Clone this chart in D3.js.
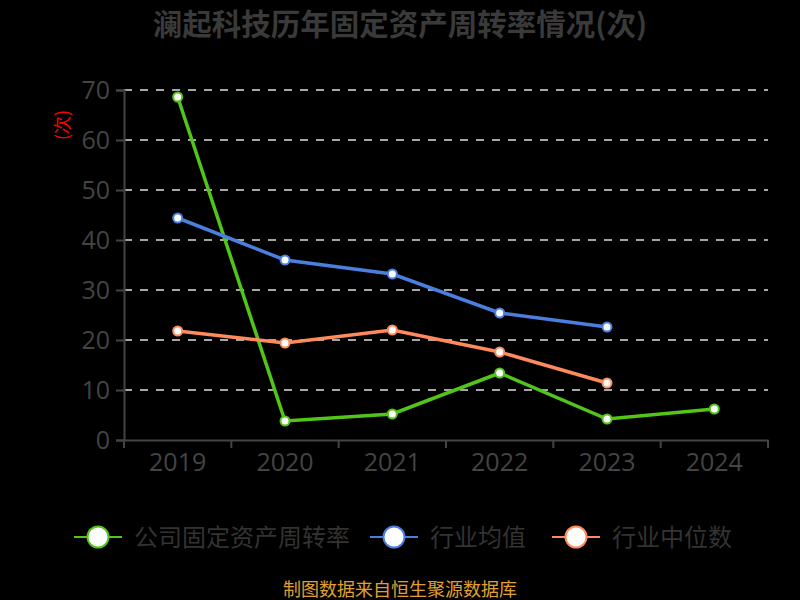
<!DOCTYPE html>
<html>
<head>
<meta charset="utf-8">
<script src="https://cdn.jsdelivr.net/npm/d3@7"></script>
<style>
  body { margin: 0; background: #000; }
  svg { display: block; font-family: "Noto Sans CJK SC", "Noto Sans", sans-serif; }
</style>
</head>
<body>
<svg id="chart"></svg>
<script>
// ---------------- data ----------------
const years = ["2019", "2020", "2021", "2022", "2023", "2024"];
const companyRate = [68.6, 3.8, 5.2, 13.4, 4.2, 6.2];
const industryAvg = [44.4, 36.0, 33.2, 25.4, 22.6];
const industryMedian = [21.8, 19.4, 22.0, 17.6, 11.4];
const yTicks = [0, 10, 20, 30, 40, 50, 60, 70];
const seriesNames = ["公司固定资产周转率", "行业均值", "行业中位数"];
const seriesColors = ["#52c41a", "#4a7fe0", "#ff8a5c"];

const width = 800;
const height = 600;
const margin = { left: 124, right: 32, top: 90, bottom: 160 };

const svg = d3.select("#chart")
  .attr("width", width)
  .attr("height", height);

svg.append("rect").attr("width", width).attr("height", height).attr("fill", "#000");

// scales
const xScale = d3.scaleBand()
  .domain(years)
  .range([margin.left, width - margin.right]);

const yScale = d3.scaleLinear()
  .domain([0, 70])
  .range([height - margin.bottom, margin.top]);

// title
svg.append("text")
  .attr("x", width / 2)
  .attr("y", 35)
  .attr("text-anchor", "middle")
  .attr("font-size", 29.5)
  .attr("font-weight", "bold")
  .attr("fill", "#3a3a3a")
  .text("澜起科技历年固定资产周转率情况(次)");

// grid lines
svg.append("g")
  .selectAll("line")
  .data(yTicks.filter(d => d > 0))
  .join("line")
  .attr("x1", margin.left)
  .attr("x2", width - margin.right)
  .attr("y1", d => yScale(d))
  .attr("y2", d => yScale(d))
  .attr("stroke", "#dddddd")
  .attr("stroke-width", 1.5)
  .attr("stroke-dasharray", "8,8");

// y axis
const yAxis = svg.append("g")
  .attr("transform", "translate(" + margin.left + ",0)")
  .call(d3.axisLeft(yScale).tickValues(yTicks).tickSize(8).tickPadding(6));
yAxis.selectAll("path, line").attr("stroke", "#444").attr("stroke-width", 2);
yAxis.selectAll("text").attr("fill", "#444").attr("font-size", 25)
  .attr("font-family", "'Open Sans', 'Noto Sans', sans-serif");

// x axis
const xAxis = svg.append("g")
  .attr("transform", "translate(0," + yScale(0) + ")")
  .call(d3.axisBottom(xScale).tickSize(0).tickPadding(13));
xAxis.select("path").attr("stroke", "#444").attr("stroke-width", 2);
xAxis.selectAll("text").attr("fill", "#444").attr("font-size", 25)
  .attr("font-family", "'Open Sans', 'Noto Sans', sans-serif");
// band boundary ticks
xAxis.selectAll(".bt")
  .data(years.map(y => xScale(y)).concat([xScale.range()[1]]))
  .join("line")
  .attr("class", "bt")
  .attr("x1", d => d).attr("x2", d => d)
  .attr("y1", 0).attr("y2", 8)
  .attr("stroke", "#444").attr("stroke-width", 2);

// y axis unit label
svg.append("text")
  .attr("transform", "translate(69,125) rotate(-90)")
  .attr("text-anchor", "middle")
  .attr("font-size", 18)
  .attr("fill", "#ff0000")
  .text("(次)");

// lines
const cx = (d, i) => xScale(years[i]) + xScale.bandwidth() / 2;
const allSeries = [companyRate, industryAvg, industryMedian];

const line = d3.line()
  .x(cx)
  .y(d => yScale(d));

allSeries.forEach((vals, s) => {
  svg.append("path")
    .datum(vals)
    .attr("d", line)
    .attr("fill", "none")
    .attr("stroke", seriesColors[s])
    .attr("stroke-width", 3.5);
});
allSeries.forEach((vals, s) => {
  svg.append("g")
    .selectAll("circle")
    .data(vals)
    .join("circle")
    .attr("cx", cx)
    .attr("cy", d => yScale(d))
    .attr("r", 4.5)
    .attr("fill", "#fff")
    .attr("stroke", seriesColors[s])
    .attr("stroke-width", 2);
});

// legend
const legendX = [74, 370, 552];
const legend = svg.append("g");
seriesNames.forEach((name, i) => {
  const g = legend.append("g").attr("transform", "translate(" + legendX[i] + ",537)");
  g.append("line").attr("x1", 0).attr("x2", 48).attr("y1", 0).attr("y2", 0)
    .attr("stroke", seriesColors[i]).attr("stroke-width", 2);
  g.append("circle").attr("cx", 24).attr("cy", 0).attr("r", 10.5)
    .attr("fill", "#fff").attr("stroke", seriesColors[i]).attr("stroke-width", 2);
  g.append("text").attr("x", 60).attr("y", 9)
    .attr("font-size", 24).attr("fill", "#333")
    .text(name);
});

// source note
svg.append("text")
  .attr("x", 400)
  .attr("y", 596)
  .attr("text-anchor", "middle")
  .attr("font-size", 18)
  .attr("fill", "#e0a030")
  .text("制图数据来自恒生聚源数据库");
</script>
</body>
</html>
